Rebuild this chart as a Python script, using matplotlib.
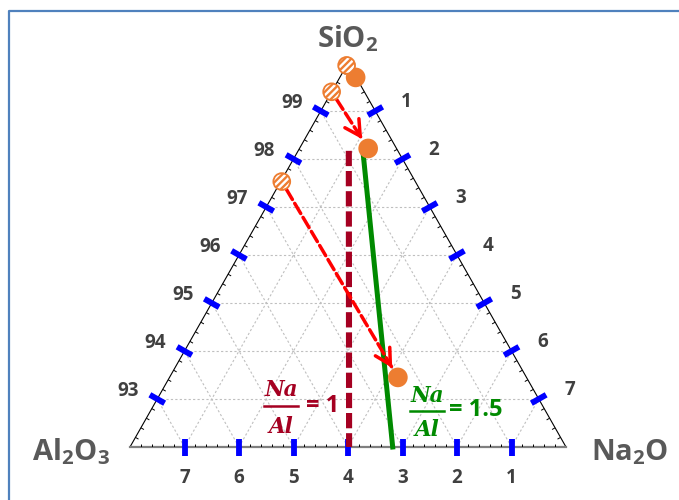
import numpy as np
import matplotlib.pyplot as plt
from matplotlib.lines import Line2D
from matplotlib.collections import LineCollection

plt.rcParams['font.family'] = ['Open Sans', 'DejaVu Sans']
plt.rcParams['mathtext.default'] = 'regular'
plt.rcParams['hatch.linewidth'] = 1.7

# zoomed corner of the SiO2 - Al2O3 - Na2O diagram (mol %)
SI_MIN = 92.0
SPAN = 8.0

left_ticks = [93, 94, 95, 96, 97, 98, 99]      # SiO2
right_ticks = [1, 2, 3, 4, 5, 6, 7]            # Na2O
bottom_ticks = [7, 6, 5, 4, 3, 2, 1]           # Al2O3

# glass compositions as (SiO2, Na2O); Al2O3 is the rest
start_sio2 = [99.95, 99.40, 97.53]
start_na2o = [0.00, 0.00, 0.02]
end_sio2 = [99.70, 98.22, 93.45]
end_na2o = [0.29, 1.26, 4.19]

# Na/Al = 1 and Na/Al = 1.5 lines, (SiO2, Na2O) at both ends
ratio1_sio2 = [98.17, 92.0]
ratio1_na2o = [0.93, 4.02]
ratio15_sio2 = [98.15, 92.0]
ratio15_na2o = [1.20, 4.82]

ORANGE = '#ED7D31'
MAROON = '#A50021'
GREEN = '#008A00'
BLUE = '#0000FF'
DARK = '#404040'
GREY = '#595959'

W, H = 679, 500
PX_X, PX_Y = 436.0, 384.0   # pixels per unit of the triangle axes


def to_xy(sio2, na2o):
    t = (np.asarray(sio2, dtype=float) - SI_MIN) / SPAN
    r = np.asarray(na2o, dtype=float) / SPAN
    return r + t / 2, t


def shift(x, y, dx, dy):
    # move a data point by dx, dy pixels (y up)
    return x + dx / PX_X, y + dy / PX_Y


def fx(px):
    return px / W


def fy(py):
    return 1 - py / H


fig = plt.figure(figsize=(W / 100, H / 100), dpi=100)
ax = fig.add_axes([130 / W, (H - 447) / H, PX_X / W, PX_Y / H])
ax.set_xlim(0, 1)
ax.set_ylim(0, 1)
ax.axis('off')

# frame
fig.add_artist(Line2D([fx(9), fx(9), 1.0], [0.0, fy(11), fy(11)],
                      color='#4F81BD', lw=1.6, transform=fig.transFigure))

# grid
for k in range(1, 8):
    segs = [
        (to_xy(SI_MIN + k, 0), to_xy(SI_MIN + k, 8 - k)),
        (to_xy(SI_MIN, k), to_xy(100 - k, k)),
        (to_xy(SI_MIN, 8 - k), to_xy(100 - k, 0)),
    ]
    for a, b in segs:
        ax.plot([a[0], b[0]], [a[1], b[1]], color='#BFBFBF', lw=0.8,
                linestyle=(0, (2, 2)), zorder=1)

# triangle edges
bl, br, top = to_xy(SI_MIN, 0), to_xy(SI_MIN, 8), to_xy(100, 0)
ax.plot([bl[0], top[0], br[0]], [bl[1], top[1], br[1]], color='black', lw=0.8,
        zorder=2, clip_on=False)
ax.plot([bl[0], br[0]], [bl[1], br[1]], color='#7F7F7F', lw=1.6, zorder=2, clip_on=False)

# edge normals in pixels (left, right, bottom) : inward direction
n_left = (0.8696, -0.4937)
n_right = (-0.8696, -0.4937)
n_bot = (0.0, 1.0)

# minor ticks every 0.2
minor = []
for v in np.arange(0.2, 8.0, 0.2):
    if abs(v - round(v)) < 1e-6:
        continue
    for (x, y), n in [(to_xy(SI_MIN + v, 0), n_left),
                      (to_xy(100 - v, v), n_right),
                      (to_xy(SI_MIN, v), n_bot)]:
        minor.append([(x, y), shift(x, y, 3.5 * n[0], 3.5 * n[1])])
ax.add_collection(LineCollection(minor, colors='black', linewidths=0.7, zorder=2))

# major ticks and labels
def major(x, y, n, label, dx, dy):
    a = shift(x, y, -8.5 * n[0], -8.5 * n[1])
    b = shift(x, y, 8.5 * n[0], 8.5 * n[1])
    ax.plot([a[0], b[0]], [a[1], b[1]], color=BLUE, lw=4.2,
            solid_capstyle='butt', zorder=3, clip_on=False)
    ax.annotate(str(label), xy=(x, y), xytext=(dx, dy), textcoords='offset pixels',
                ha='center', va='center', fontsize=13.5, fontweight='bold', color=DARK)

for v in left_ticks:
    x, y = to_xy(v, 0)
    major(x, y, n_left, v, -29, 8)
for v in right_ticks:
    x, y = to_xy(100 - v, v)
    major(x, y, n_right, v, 31, 9)
for v in bottom_ticks:
    x, y = to_xy(SI_MIN, 8 - v)
    major(x, y, n_bot, v, 0, -31)

# corner names
fig.text(fx(348), fy(47), r'SiO$_2$', ha='center', va='baseline',
         fontsize=21, fontweight='bold', color=GREY)
fig.text(fx(71), fy(460), r'Al$_2$O$_3$', ha='center', va='baseline',
         fontsize=21, fontweight='bold', color=GREY)
fig.text(fx(630), fy(460), r'Na$_2$O', ha='center', va='baseline',
         fontsize=21, fontweight='bold', color=GREY)

# Na/Al lines
x1, y1 = to_xy(ratio1_sio2, ratio1_na2o)
ax.plot(x1, y1, color=MAROON, lw=4.4, linestyle=(0, (2.5, 0.8)), zorder=4, clip_on=False)
x2, y2 = to_xy(ratio15_sio2, ratio15_na2o)
ax.plot(x2, y2, color=GREEN, lw=3.6, zorder=4, clip_on=False)

# arrows between compositions
for i in (1, 2):
    a = to_xy(start_sio2[i], start_na2o[i])
    b = to_xy(end_sio2[i], end_na2o[i])
    length = np.hypot((b[0] - a[0]) * PX_X, (b[1] - a[1]) * PX_Y) * 0.72
    ax.annotate('', xy=b, xytext=a, zorder=5,
                arrowprops=dict(arrowstyle='-', color='red', lw=2.5,
                                linestyle=(0, (3.4, 1.3)), shrinkA=6.5, shrinkB=9))
    ax.annotate('', xy=b, xytext=a, zorder=5,
                arrowprops=dict(arrowstyle='->,head_length=1.1,head_width=0.6',
                                color='red', lw=2.5, shrinkA=length - 14, shrinkB=8))

# compositions
sx, sy = to_xy(start_sio2, start_na2o)
ex, ey = to_xy(end_sio2, end_na2o)
ax.scatter(ex, ey, s=200, color=ORANGE, edgecolors='none', zorder=6, clip_on=False)
ax.scatter(sx, sy, s=180, color=ORANGE, edgecolors='none', zorder=6, clip_on=False)
ax.scatter(sx, sy, s=115, facecolor='none', edgecolors='white', hatch='/////',
           linewidths=0, zorder=7, clip_on=False)

# ratio labels
def ratio_label(xc, y_top, y_line, y_bot, eq_x, eq_y, text, color):
    fig.text(fx(xc), fy(y_top), 'Na', ha='center', va='baseline', fontsize=15.5,
             family='DejaVu Serif', style='italic', fontweight='bold', color=color)
    fig.text(fx(xc), fy(y_bot), 'Al', ha='center', va='baseline', fontsize=15.5,
             family='DejaVu Serif', style='italic', fontweight='bold', color=color)
    fig.add_artist(Line2D([fx(xc - 17), fx(xc + 17)], [fy(y_line), fy(y_line)],
                          color=color, lw=1.8, transform=fig.transFigure))
    fig.text(fx(eq_x), fy(eq_y), text, ha='left', va='center', fontsize=17,
             fontweight='bold', color=color)

ratio_label(281, 396, 406, 433, 306, 406, '= 1', MAROON)
ratio_label(427, 402, 411, 436, 449, 410, '= 1.5', GREEN)

fig.savefig('out.png', dpi=100)
